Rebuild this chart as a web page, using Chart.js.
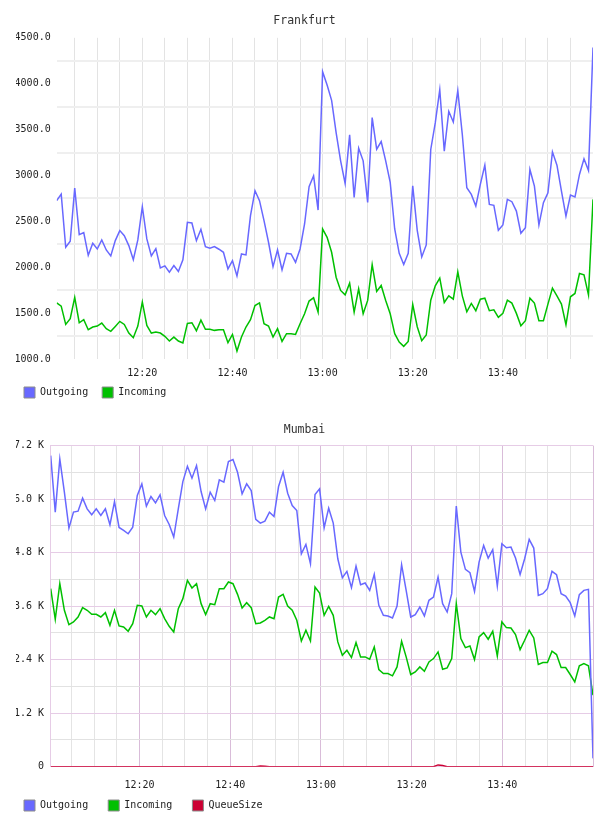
<!DOCTYPE html>
<html>
<head>
<meta charset="utf-8">
<script src="https://cdn.jsdelivr.net/npm/chart.js@4/dist/chart.umd.min.js"></script>
<style>
    html, body { margin: 0; padding: 0; background: #fff; overflow: hidden; }
    .box { position: absolute; left: 0; width: 608px; }
    #frankfurtBox { top: 0; height: 408px; }
    #mumbaiBox { top: 405px; height: 416px; }
</style>
</head>
<body>
<div class="box" id="frankfurtBox"><canvas id="frankfurt"></canvas></div>
<div class="box" id="mumbaiBox"><canvas id="mumbai"></canvas></div>
<script>
// sample times are minutes after 12:00, one sample a minute
const frankfurtStart = 1;
const frankfurtStep = 1;
const mumbaiStart = 0.4;
const mumbaiStep = 1.005;

// time axis: a grid line every 5 minutes, a label every 20
const timeGridStep = 5;
const timeLabelMinutes = [20, 40, 60, 80, 100];

const frankfurtOutgoing = [
    2725, 2797, 2217, 2283, 2862, 2355, 2377, 2130, 2261, 2199,
    2297, 2188, 2123, 2290, 2399, 2344, 2236, 2083, 2297, 2659,
    2308, 2123, 2203, 1993, 2015, 1946, 2018, 1953, 2080, 2489,
    2482, 2290, 2413, 2225, 2207, 2225, 2196, 2163, 1982, 2072,
    1906, 2145, 2134, 2562, 2833, 2725, 2507, 2272, 2007, 2188,
    1971, 2152, 2145, 2054, 2199, 2471, 2877, 2996, 2623, 4130,
    3985, 3819, 3467, 3159, 2913, 3442, 2761, 3297, 3159, 2707,
    3630, 3286, 3370, 3159, 2924, 2417, 2152, 2029, 2152, 2888,
    2402, 2112, 2243, 3283, 3572, 3935, 3265, 3699, 3583, 3924,
    3446, 2866, 2794, 2667, 2902, 3112, 2685, 2674, 2402, 2460,
    2739, 2714, 2612, 2370, 2431, 3065, 2884, 2460, 2703, 2812,
    3257, 3112, 2830, 2558, 2786, 2765, 3011, 3181, 3054, 4395
];
const frankfurtIncoming = [
    1612, 1576, 1377, 1439, 1670, 1395, 1428, 1319, 1348, 1359,
    1391, 1330, 1301, 1355, 1410, 1377, 1283, 1232, 1359, 1620,
    1366, 1283, 1294, 1283, 1247, 1196, 1239, 1196, 1174, 1388,
    1395, 1308, 1424, 1323, 1323, 1312, 1319, 1319, 1178, 1268,
    1087, 1239, 1348, 1428, 1583, 1612, 1384, 1359, 1239, 1330,
    1192, 1276, 1276, 1268, 1384, 1493, 1631, 1667, 1511, 2417,
    2326, 2163, 1891, 1747, 1699, 1826, 1511, 1765, 1493, 1638,
    2029, 1736, 1801, 1638, 1493, 1276, 1185, 1138, 1192, 1594,
    1352, 1199, 1261, 1641, 1797, 1881, 1616, 1688, 1652, 1949,
    1688, 1515, 1605, 1526, 1652, 1663, 1526, 1536, 1453, 1497,
    1641, 1609, 1497, 1362, 1417, 1663, 1609, 1417, 1417, 1598,
    1772, 1688, 1598, 1373, 1678, 1714, 1931, 1917, 1699, 2739
];

const mumbaiOutgoing = [
    6976, 5708, 6901, 6155, 5350, 5708, 5730, 6021, 5782, 5648,
    5782, 5633, 5782, 5424, 5946, 5364, 5297, 5223, 5372, 6081,
    6342, 5842, 6058, 5917, 6096, 5633, 5432, 5148, 5782, 6394,
    6737, 6469, 6752, 6170, 5782, 6155, 5969, 6431, 6379, 6842,
    6887, 6603, 6118, 6342, 6193, 5544, 5462, 5506, 5708, 5611,
    6282, 6603, 6133, 5857, 5745, 4775, 4984, 4551, 6103, 6230,
    5357, 5797, 5462, 4663, 4238, 4380, 4014, 4499, 4081, 4119,
    3954, 4312, 3619, 3395, 3380, 3335, 3604, 4529, 3954, 3357,
    3410, 3581, 3380, 3731, 3805, 4253, 3656, 3469, 3880, 5842,
    4812, 4424, 4350, 3932, 4589, 4962, 4678, 4865, 4051, 4999,
    4909, 4924, 4678, 4312, 4663, 5096, 4902, 3842, 3880, 3992,
    4380, 4305, 3880, 3828, 3678, 3380, 3857, 3954, 3977, 187
];
const mumbaiIncoming = [
    3992, 3305, 4104, 3507, 3186, 3245, 3357, 3566, 3507, 3417,
    3417, 3357, 3454, 3171, 3507, 3156, 3134, 3037, 3208, 3619,
    3604, 3357, 3507, 3410, 3544, 3320, 3149, 3022, 3544, 3768,
    4178, 4007, 4104, 3656, 3410, 3656, 3634, 3992, 3992, 4141,
    4104, 3865, 3559, 3678, 3566, 3208, 3223, 3283, 3358, 3320,
    3805, 3865, 3604, 3507, 3283, 2820, 3059, 2820, 4029, 3895,
    3395, 3596, 3395, 2798, 2500, 2611, 2447, 2783, 2462, 2462,
    2410, 2686, 2179, 2089, 2089, 2037, 2238, 2813, 2462, 2067,
    2126, 2238, 2141, 2350, 2425, 2574, 2186, 2216, 2425, 3656,
    2872, 2671, 2708, 2402, 2910, 3007, 2858, 3037, 2485, 3246,
    3119, 3111, 2962, 2626, 2835, 3059, 2887, 2291, 2335, 2335,
    2589, 2514, 2223, 2223, 2067, 1903, 2261, 2313, 2261, 1604
];
const mumbaiQueue = [
    0, 0, 0, 0, 0, 0, 0, 0, 0, 0,
    0, 0, 0, 0, 0, 0, 0, 0, 0, 0,
    0, 0, 0, 0, 0, 0, 0, 0, 0, 0,
    0, 0, 0, 0, 0, 0, 0, 0, 0, 0,
    0, 0, 0, 0, 0, 0, 15, 10, 0, 0,
    0, 0, 0, 0, 0, 0, 0, 0, 0, 0,
    0, 0, 0, 0, 0, 0, 0, 0, 0, 0,
    0, 0, 0, 0, 0, 0, 0, 0, 0, 0,
    0, 0, 0, 0, 0, 40, 25, 0, 0, 0,
    0, 0, 0, 0, 0, 0, 0, 0, 0, 0,
    0, 0, 0, 0, 0, 0, 0, 0, 0, 0,
    0, 0, 0, 0, 0, 0, 0, 0, 0, 0
];

const outgoingColour = 'rgb(104, 104, 255)';
const incomingColour = 'rgb(0, 192, 0)';
const queueColour = 'rgb(204, 0, 51)';

Chart.defaults.font.family = 'DejaVu Sans Mono';
Chart.defaults.font.size = 10;
Chart.defaults.color = '#222';

function sampleTimes(start, step, count) {
    const times = [];
    for (let i = 0; i < count; i++) times.push(start + i * step);
    return times;
}

function clockLabel(minutes) {
    const h = 12 + Math.floor(minutes / 60);
    const m = minutes % 60;
    return h + ':' + (m < 10 ? '0' : '') + m;
}

function tickList(min, max, step) {
    const list = [];
    for (let v = min; v <= max + 1e-9; v += step) list.push({value: v});
    return list;
}

function series(name, colour, times, values) {
    return {
        label: name,
        data: values.map((v, i) => ({x: times[i], y: v})),
        borderColor: colour,
        backgroundColor: colour,
        borderWidth: 1.5,
        pointRadius: 0,
        tension: 0,
        fill: false
    };
}

function buildChart(id, cfg) {
    const ctx = document.getElementById(id).getContext('2d');
    return new Chart(ctx, {
        type: 'line',
        data: {datasets: cfg.datasets},
        options: {
            responsive: true,
            maintainAspectRatio: false,
            animation: false,
            devicePixelRatio: 1,
            layout: {padding: cfg.padding},
            plugins: {
                tooltip: {enabled: false},
                title: {
                    display: true,
                    text: cfg.title,
                    color: '#333',
                    font: {size: 11.5, weight: 'normal'},
                    padding: cfg.titlePadding
                },
                legend: {
                    position: 'bottom',
                    align: 'start',
                    labels: {
                        boxWidth: 11,
                        boxHeight: 11,
                        padding: 8,
                        color: '#222',
                        // legend entries sit in fixed-width cells, so pad the text
                        generateLabels: chart => Chart.defaults.plugins.legend.labels.generateLabels(chart)
                            .map(item => Object.assign(item, {
                                text: item.text + cfg.legendGap,
                                strokeStyle: '#8c8c8c',
                                lineWidth: 1
                            }))
                    }
                }
            },
            scales: {
                x: {
                    type: 'linear',
                    min: cfg.xMin,
                    max: cfg.xMax,
                    afterBuildTicks: s => { s.ticks = tickList(timeGridStep, 120, timeGridStep); },
                    afterFit: s => { s.height = cfg.xHeight; },
                    border: {display: false},
                    grid: {drawTicks: false, color: cfg.xGrid, lineWidth: 1},
                    ticks: {
                        autoSkip: false,
                        maxRotation: 0,
                        padding: cfg.xPadding,
                        color: '#222',
                        callback: v => timeLabelMinutes.includes(v) ? clockLabel(v) : ''
                    }
                },
                y: {
                    min: cfg.yMin,
                    max: cfg.yMax,
                    afterBuildTicks: s => { s.ticks = tickList(cfg.yMin, cfg.yMax, cfg.yStep); },
                    afterFit: s => { s.width = cfg.yWidth; },
                    border: cfg.yBorder,
                    grid: {drawTicks: false, color: cfg.yGrid, lineWidth: cfg.yGridWidth},
                    ticks: {
                        autoSkip: false,
                        padding: cfg.yPadding,
                        color: '#222',
                        callback: cfg.yLabel
                    }
                }
            }
        }
    });
}

const frankfurtTimes = sampleTimes(frankfurtStart, frankfurtStep, frankfurtOutgoing.length);
const mumbaiTimes = sampleTimes(mumbaiStart, mumbaiStep, mumbaiOutgoing.length);

buildChart('frankfurt', {
    title: 'Frankfurt',
    titlePadding: {top: 14, bottom: 10},
    padding: {left: 16, right: 15, top: 0, bottom: 0},
    legendGap: ' ',
    datasets: [
        series('Outgoing', outgoingColour, frankfurtTimes, frankfurtOutgoing),
        series('Incoming', incomingColour, frankfurtTimes, frankfurtIncoming)
    ],
    xMin: frankfurtTimes[0],
    xMax: frankfurtTimes[frankfurtTimes.length - 1],
    xHeight: 20,
    xPadding: 8,
    xGrid: c => c.tick && c.tick.value >= 120 ? 'rgba(0,0,0,0)' : '#e3e3e3',
    yMin: 1000,
    yMax: 4500,
    yStep: 250,
    yWidth: 40.7,
    yPadding: 6,
    yBorder: {display: false},
    yGrid: c => c.tick && c.tick.value % 500 === 0 ? 'rgba(0,0,0,0)' : '#efefef',
    yGridWidth: 2,
    yLabel: v => v % 500 === 0 ? v.toFixed(1) : ''
});

buildChart('mumbai', {
    title: 'Mumbai',
    titlePadding: {top: 18.4, bottom: 8.4},
    padding: {left: 16, right: 15, top: 0, bottom: 0},
    legendGap: '  ',
    datasets: [
        series('Outgoing', outgoingColour, mumbaiTimes, mumbaiOutgoing),
        series('Incoming', incomingColour, mumbaiTimes, mumbaiIncoming),
        series('QueueSize', queueColour, mumbaiTimes, mumbaiQueue)
    ],
    xMin: mumbaiTimes[0],
    xMax: mumbaiTimes[mumbaiTimes.length - 1],
    xHeight: 25.3,
    xPadding: 12.3,
    xGrid: c => c.tick && c.tick.value % 20 === 0 ? '#d9bcd9' : '#e4e4e4',
    yMin: 0,
    yMax: 7200,
    yStep: 600,
    yWidth: 34.7,
    yPadding: 6.7,
    yBorder: {display: true, color: '#e6cce6', width: 1},
    yGrid: c => c.tick && c.tick.value % 1200 === 0 ? '#e6cce6' : '#e2e2e2',
    yGridWidth: 1,
    yLabel: v => v % 1200 === 0 ? (v === 0 ? '0' : (v / 1000).toFixed(1) + ' K') : ''
});
</script>
</body>
</html>
